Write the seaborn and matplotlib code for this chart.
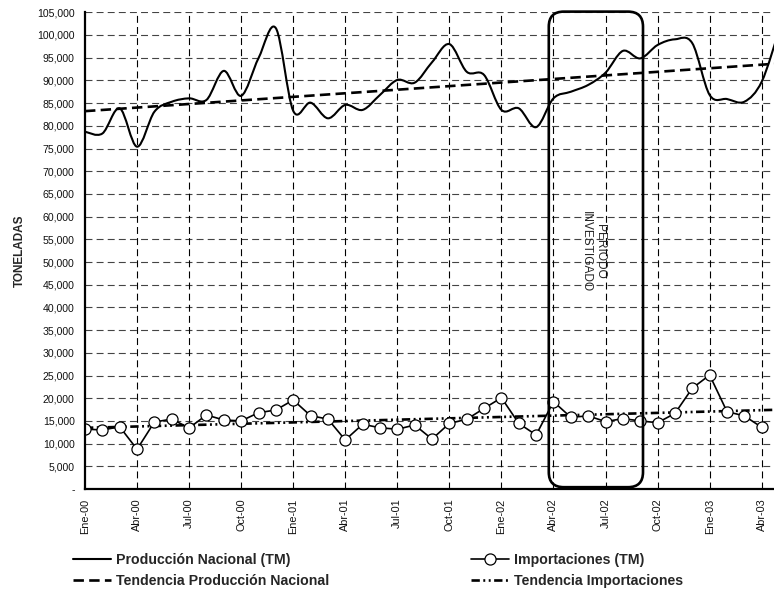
import numpy as np
import pandas as pd
import matplotlib
matplotlib.use('Agg')
import matplotlib.pyplot as plt
import seaborn as sns
from matplotlib.path import Path
from matplotlib.patches import PathPatch, FancyBboxPatch
from matplotlib.lines import Line2D
from matplotlib.ticker import FuncFormatter, FixedLocator
from matplotlib import font_manager

# ---------------- data ----------------
periodos = ['Ene-00', 'Feb-00', 'Mar-00', 'Abr-00', 'May-00', 'Jun-00', 'Jul-00', 'Ago-00', 'Sep-00', 'Oct-00', 'Nov-00', 'Dic-00',
            'Ene-01', 'Feb-01', 'Mar-01', 'Abr-01', 'May-01', 'Jun-01', 'Jul-01', 'Ago-01', 'Sep-01', 'Oct-01', 'Nov-01', 'Dic-01',
            'Ene-02', 'Feb-02', 'Mar-02', 'Abr-02', 'May-02', 'Jun-02', 'Jul-02', 'Ago-02', 'Sep-02', 'Oct-02', 'Nov-02', 'Dic-02',
            'Ene-03', 'Feb-03', 'Mar-03', 'Abr-03', 'May-03']

produccion = [78700, 78300, 83850, 75400, 83100, 85300, 86050, 85700, 92100, 86600, 94900, 101500,
              83300, 85100, 81650, 84600, 83500, 86800, 90100, 89500, 94000, 98000, 91900, 91200,
              83500, 83850, 79700, 86050, 87500, 89000, 91700, 96500, 94850, 97800, 99050, 98200,
              86800, 85900, 85300, 89700, 101000]

importaciones = [13200, 13000, 13700, 8750, 14750, 15400, 13450, 16300, 15200, 15000, 16800, 17400,
                 19600, 16150, 15400, 10800, 14250, 13500, 13150, 14100, 11000, 14450, 15350, 17750,
                 20100, 14450, 11900, 19250, 15800, 16100, 14850, 15500, 15000, 14600, 16650, 22200,
                 25100, 17050, 16100, 13600]

tick_labels = ['Ene-00', 'Abr-00', 'Jul-00', 'Oct-00', 'Ene-01', 'Abr-01', 'Jul-01', 'Oct-01',
               'Ene-02', 'Abr-02', 'Jul-02', 'Oct-02', 'Ene-03', 'Abr-03']

leyenda = ['Producción Nacional (TM)', 'Tendencia Producción Nacional',
           'Importaciones (TM)', 'Tendencia Importaciones']
periodo_texto = 'PERIODO\nINVESTIGADO'
periodo_inicio, periodo_fin = 'Abr-02', 'Sep-02'

# ---------------- tables ----------------
df_prod = pd.DataFrame({'mes': np.arange(len(produccion)), 'valor': produccion})
df_imp = pd.DataFrame({'mes': np.arange(len(importaciones)), 'valor': importaciones})
tick_pos = [periodos.index(t) for t in tick_labels]

# ---------------- style ----------------
sns.set_style('white')
names = {f.name for f in font_manager.fontManager.ttflist}
narrow = 'Liberation Sans Narrow' if 'Liberation Sans Narrow' in names else 'Liberation Sans'
plt.rcParams['font.family'] = [narrow, 'DejaVu Sans']
plt.rcParams['lines.scale_dashes'] = False

W, H = 774, 594
fig = plt.figure(figsize=(W / 100, H / 100), dpi=100)
ax = fig.add_axes([85 / W, 1 - 489 / H, (W - 85) / W, (489 - 12.3) / H])
ax.set_xlim(0, 39.71)
ax.set_ylim(0, 105000)

# grid
for v in range(5000, 105001, 5000):
    ax.axhline(v, color='#444444', lw=0.8, dashes=(5, 3), zorder=1)
for p in tick_pos[1:]:
    ax.axvline(p, color='black', lw=0.8, dashes=(5, 3), zorder=1)

# production smooth line (Bezier through the data points)
def smooth_path(x, y):
    x = np.asarray(x, float)
    y = np.asarray(y, float)
    n = len(x)
    verts = [(x[0], y[0])]
    codes = [Path.MOVETO]
    for i in range(n - 1):
        xa, ya = (x[i - 1], y[i - 1]) if i > 0 else (x[i], y[i])
        xd, yd = (x[i + 2], y[i + 2]) if i + 2 < n else (x[i + 1], y[i + 1])
        c1 = (x[i] + (x[i + 1] - xa) / 6, y[i] + (y[i + 1] - ya) / 6)
        c2 = (x[i + 1] - (xd - x[i]) / 6, y[i + 1] - (yd - y[i]) / 6)
        verts += [c1, c2, (x[i + 1], y[i + 1])]
        codes += [Path.CURVE4] * 3
    return Path(verts, codes)

ax.add_patch(PathPatch(smooth_path(df_prod['mes'], df_prod['valor']), fill=False,
                       edgecolor='black', lw=1.5, zorder=4, capstyle='round', joinstyle='round'))

# trends
prod_trend_style = dict(color='black', lw=1.9, dashes=(7.5, 3.8), zorder=5)
imp_trend_style = dict(color='black', lw=1.9, dashes=(6, 2.5, 1.4, 2.5, 1.4, 2.5), zorder=5)
sns.regplot(data=df_prod, x='mes', y='valor', ax=ax, scatter=False, ci=None, truncate=False,
            line_kws=prod_trend_style)
sns.regplot(data=df_imp, x='mes', y='valor', ax=ax, scatter=False, ci=None, truncate=False,
            line_kws=imp_trend_style)

# imports
imp_style = dict(color='black', lw=1.2, marker='o', markersize=8, markerfacecolor='white',
                 markeredgecolor='black', markeredgewidth=0.9)
sns.lineplot(data=df_imp, x='mes', y='valor', ax=ax, zorder=6, **imp_style)

ax.set_xlim(0, 39.71)
ax.set_ylim(0, 105000)

# axes
for s in ['top', 'right']:
    ax.spines[s].set_visible(False)
for s in ['left', 'bottom']:
    ax.spines[s].set_color('black')
    ax.spines[s].set_linewidth(1.6)
    ax.spines[s].set_zorder(7)

ax.yaxis.set_major_locator(FixedLocator(list(range(0, 105001, 5000))))
ax.yaxis.set_major_formatter(FuncFormatter(lambda v, p: '-' if v == 0 else f'{v:,.0f}'))
ax.xaxis.set_major_locator(FixedLocator(tick_pos))
ax.set_xticklabels(tick_labels, rotation=90, va='top', ha='center')
ax.tick_params(axis='y', direction='inout', length=9, width=1.1, color='black',
               labelsize=7.6, pad=3, labelcolor='#111111')
ax.tick_params(axis='x', direction='out', length=3, width=1.1, color='black',
               labelsize=7.8, pad=4, labelcolor='#111111')
ax.set_xlabel('')
ax.set_ylabel('TONELADAS', fontsize=8.5, fontweight='bold', labelpad=8)

# investigated period box (pixel space with rounded corners)
fig.canvas.draw()
x0 = periodos.index(periodo_inicio) - 0.27
x1 = periodos.index(periodo_fin) + 0.16
p0 = ax.transData.transform((x0, 400))
p1 = ax.transData.transform((x1, 105150))
box = FancyBboxPatch((p0[0], p0[1]), p1[0] - p0[0], p1[1] - p0[1],
                     boxstyle='round,pad=0,rounding_size=15', transform=None,
                     fill=False, edgecolor='black', lw=1.9, zorder=8, clip_on=False)
fig.add_artist(box)
ax.text((x0 + x1) / 2 - 0.17, 52400, periodo_texto, rotation=270, ha='center', va='center',
        fontsize=8.6, linespacing=1.25, zorder=9)

# legends
fs = 10.2
h_prod = Line2D([], [], color='black', lw=1.5)
h_prod_t = Line2D([], [], **prod_trend_style)
h_imp = Line2D([], [], **imp_style)
h_imp_t = Line2D([], [], **imp_trend_style)
leg_kw = dict(loc='upper left', frameon=False, borderpad=0, borderaxespad=0,
              handlelength=2.65, handletextpad=0.35, labelspacing=0.5,
              prop={'weight': 'bold', 'size': fs})
fig.legend([h_prod, h_prod_t], leyenda[:2], bbox_to_anchor=(73 / W, 1 - 553 / H), **leg_kw)
fig.legend([h_imp, h_imp_t], leyenda[2:], bbox_to_anchor=(471 / W, 1 - 553 / H), **leg_kw)

fig.savefig('out.png', dpi=100)
